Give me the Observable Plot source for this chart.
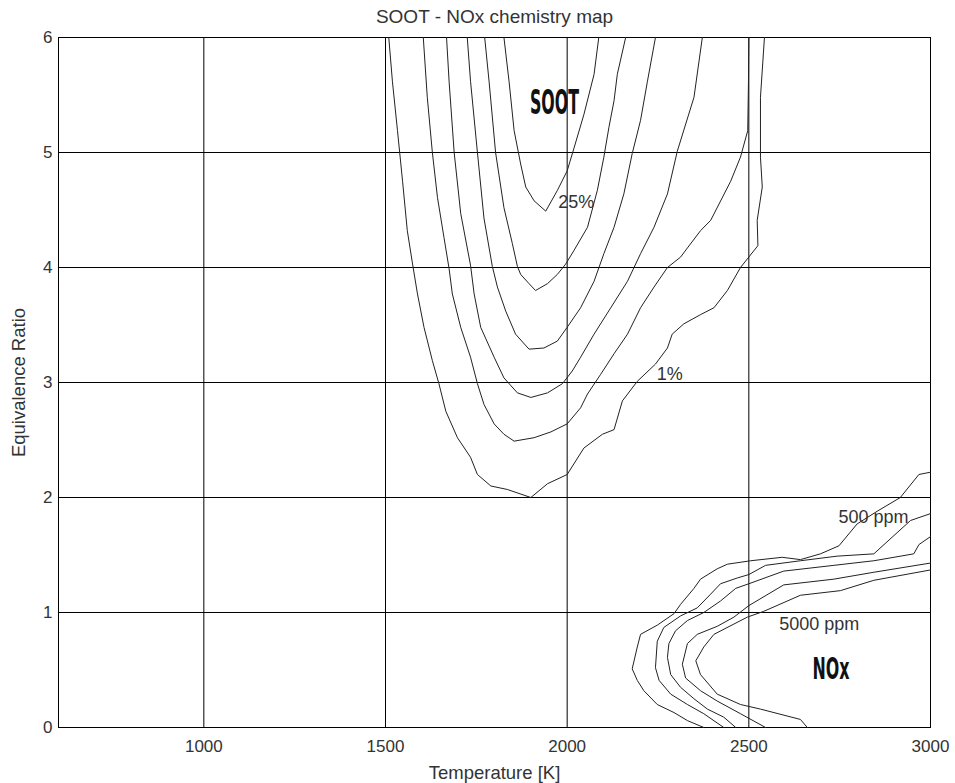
<!DOCTYPE html>
<html><head><meta charset="utf-8">
<script src="https://cdn.jsdelivr.net/npm/d3@7"></script>
<script src="https://cdn.jsdelivr.net/npm/@observablehq/plot@0.6"></script>
<style>
html,body{margin:0;padding:0;background:#fff;}
</style></head><body><div id="chart"></div>
<script>
// ---- axis ticks ----
const xTicks = [1000, 1500, 2000, 2500, 3000];
const yTicks = [0, 1, 2, 3, 4, 5, 6];

// ---- SOOT yield contours [Temperature K, Equivalence ratio], outermost (1%) to innermost (25%) ----
const soot1 = [[1509,6.00],[1519,5.62],[1533,5.19],[1547,4.75],[1560,4.32],[1574,4.04],[1588,3.77],[1606,3.48],[1629,3.19],[1647,2.99],[1666,2.75],[1698,2.52],[1734,2.35],[1753,2.20],[1790,2.10],[1835,2.07],[1900,2.00],[1946,2.12],[2000,2.20],[2046,2.43],[2097,2.55],[2129,2.59],[2152,2.84],[2193,3.01],[2243,3.16],[2276,3.30],[2289,3.42],[2321,3.51],[2367,3.59],[2404,3.65],[2441,3.80],[2477,4.00],[2525,4.19],[2523,4.41],[2537,4.70],[2532,4.96],[2532,5.48],[2543,6.00]];
const soot2 = [[1604,6.00],[1615,5.48],[1629,5.00],[1643,4.61],[1661,4.26],[1675,3.99],[1684,3.77],[1707,3.48],[1734,3.22],[1753,2.99],[1771,2.81],[1799,2.64],[1826,2.55],[1854,2.49],[1909,2.52],[1955,2.57],[2000,2.64],[2037,2.78],[2056,2.90],[2092,3.07],[2129,3.25],[2166,3.42],[2202,3.65],[2239,3.83],[2276,4.00],[2312,4.09],[2331,4.17],[2367,4.32],[2395,4.41],[2450,4.75],[2477,4.96],[2497,5.19],[2499,5.62],[2500,6.00]];
const soot3 = [[1668,6.00],[1675,5.62],[1689,5.00],[1707,4.47],[1734,4.02],[1744,3.77],[1762,3.48],[1799,3.22],[1826,3.04],[1863,2.91],[1900,2.87],[1946,2.91],[1987,2.99],[2014,3.10],[2037,3.22],[2074,3.42],[2120,3.65],[2166,3.88],[2202,4.12],[2239,4.35],[2276,4.64],[2303,5.01],[2349,5.48],[2372,6.00]];
const soot4 = [[1725,6.00],[1734,5.62],[1753,5.00],[1771,4.43],[1794,4.01],[1808,3.83],[1831,3.62],[1858,3.42],[1895,3.29],[1936,3.30],[1973,3.36],[2000,3.48],[2037,3.65],[2074,3.88],[2101,4.12],[2129,4.35],[2156,4.64],[2179,4.99],[2202,5.28],[2221,5.62],[2243,6.00]];
const soot5 = [[1773,6.00],[1785,5.62],[1803,5.00],[1826,4.52],[1849,4.21],[1863,4.01],[1872,3.94],[1895,3.86],[1913,3.80],[1946,3.86],[1973,3.94],[1996,4.03],[2019,4.15],[2056,4.35],[2083,4.67],[2101,4.96],[2115,5.22],[2129,5.45],[2138,5.68],[2161,6.00]];
const soot6 = [[1826,6.00],[1840,5.62],[1854,5.19],[1872,4.90],[1886,4.70],[1909,4.58],[1941,4.49],[1973,4.67],[2000,4.84],[2019,5.04],[2046,5.33],[2074,5.68],[2087,6.00]];

// ---- NOx contours, outermost (500 ppm) to innermost (5000 ppm) ----
const nox1 = [[3000,2.22],[2968,2.20],[2917,2.00],[2853,1.88],[2798,1.77],[2748,1.58],[2697,1.51],[2642,1.46],[2592,1.48],[2505,1.45],[2441,1.42],[2413,1.38],[2367,1.29],[2349,1.21],[2312,1.07],[2294,0.99],[2248,0.89],[2202,0.81],[2193,0.70],[2179,0.51],[2193,0.41],[2211,0.32],[2248,0.20],[2294,0.13],[2331,0.06],[2376,0]];
const nox2 = [[3000,1.86],[2945,1.80],[2844,1.51],[2743,1.49],[2642,1.45],[2546,1.41],[2500,1.33],[2468,1.30],[2422,1.25],[2395,1.16],[2358,1.04],[2312,0.97],[2266,0.87],[2248,0.75],[2243,0.52],[2253,0.41],[2285,0.29],[2331,0.20],[2376,0.12],[2431,0]];
const nox3 = [[3000,1.66],[2968,1.59],[2954,1.51],[2844,1.45],[2734,1.41],[2596,1.36],[2500,1.25],[2464,1.21],[2422,1.10],[2376,1.00],[2331,0.93],[2298,0.84],[2280,0.73],[2276,0.61],[2285,0.46],[2312,0.35],[2349,0.25],[2386,0.16],[2431,0.09],[2464,0]];
const nox4 = [[3000,1.43],[2844,1.35],[2734,1.29],[2596,1.24],[2500,1.06],[2459,0.96],[2413,0.88],[2358,0.81],[2331,0.73],[2317,0.55],[2326,0.43],[2367,0.32],[2413,0.23],[2477,0.12],[2546,0]];
const nox5 = [[3000,1.37],[2844,1.28],[2752,1.19],[2642,1.15],[2541,1.01],[2496,0.96],[2404,0.81],[2376,0.70],[2354,0.58],[2367,0.46],[2413,0.29],[2477,0.20],[2532,0.16],[2642,0.07],[2661,0]];

// ---- contour level labels and region names ----
const levelLabels = [
  {text: "25%", T: 2025, phi: 4.57},
  {text: "1%", T: 2282, phi: 3.07},
  {text: "500 ppm", T: 2843, phi: 1.83},
  {text: "5000 ppm", T: 2694, phi: 0.90}
];
const regionLabels = [
  {text: "SOOT", T: 1965, phi: 5.43}
];
const noxLabel = [{text: "NOx", T: 2675, phi: 0.51}];

const title = "SOOT - NOx chemistry map";
const xLabel = "Temperature [K]";
const yLabel = "Equivalence Ratio";

const series = [
  ["soot1", soot1], ["soot2", soot2], ["soot3", soot3], ["soot4", soot4], ["soot5", soot5], ["soot6", soot6],
  ["nox1", nox1], ["nox2", nox2], ["nox3", nox3], ["nox4", nox4], ["nox5", nox5]
];
const rows = series.flatMap(([id, pts]) => pts.map(([T, phi]) => ({id, T, phi})));

const FONT = "'Liberation Sans', Arial, Helvetica, sans-serif";
const BOLD_NARROW = "'DejaVu Sans Condensed', 'Liberation Sans Narrow', sans-serif";

const plot = Plot.plot({
  width: 955,
  height: 783,
  marginLeft: 58,
  marginRight: 25,
  marginTop: 37,
  marginBottom: 56,
  x: {domain: [600, 3000]},
  y: {domain: [0, 6]},
  style: {fontFamily: FONT, fontSize: "17px", color: "#333", background: "#fff"},
  marks: [
    Plot.gridX(xTicks, {stroke: "#000", strokeOpacity: 1, strokeWidth: 1}),
    Plot.gridY(yTicks, {stroke: "#000", strokeOpacity: 1, strokeWidth: 1}),
    Plot.frame({stroke: "#000", strokeWidth: 1}),
    Plot.axisX(xTicks, {tickSize: 0, tickPadding: 12, label: null, tickFormat: d => String(d), fill: "#333"}),
    Plot.axisY(yTicks, {tickSize: 0, tickPadding: 6, label: null, tickFormat: d => String(d), fill: "#333"}),
    Plot.line(rows, {x: "T", y: "phi", z: "id", stroke: "#222", strokeWidth: 1, curve: "linear"}),
    Plot.text(levelLabels, {x: "T", y: "phi", text: "text", fontSize: 18, fill: "#333", lineAnchor: "middle"}),
    Plot.text(regionLabels, {x: "T", y: "phi", text: "text", fontSize: 33, fontWeight: "bold", fontFamily: BOLD_NARROW, fill: "#111", lineAnchor: "middle"}),
    Plot.text(noxLabel, {x: "T", y: "phi", text: "text", textAnchor: "start", fontSize: 31, fontWeight: "bold", fontFamily: BOLD_NARROW, fill: "#111", lineAnchor: "middle"}),
    Plot.text([title], {text: d => d, frameAnchor: "top", dy: -15, lineAnchor: "bottom", fontSize: 19, fill: "#333"}),
    Plot.text([xLabel], {text: d => d, frameAnchor: "bottom", dy: 51, lineAnchor: "bottom", fontSize: 18.5, fill: "#333"}),
    Plot.text([yLabel], {text: d => d, frameAnchor: "left", textAnchor: "middle", dx: -39, rotate: -90, lineAnchor: "middle", fontSize: 18.5, fill: "#333"})
  ]
});

// condense the bold region names to the narrow look of the original
const narrow = {"SOOT": 49, "NOx": 37};
plot.querySelectorAll("text").forEach(t => {
  const w = narrow[t.textContent];
  if (w) { t.setAttribute("textLength", w); t.setAttribute("lengthAdjust", "spacingAndGlyphs"); }
});

document.getElementById("chart").appendChild(plot);
</script>
</body></html>
